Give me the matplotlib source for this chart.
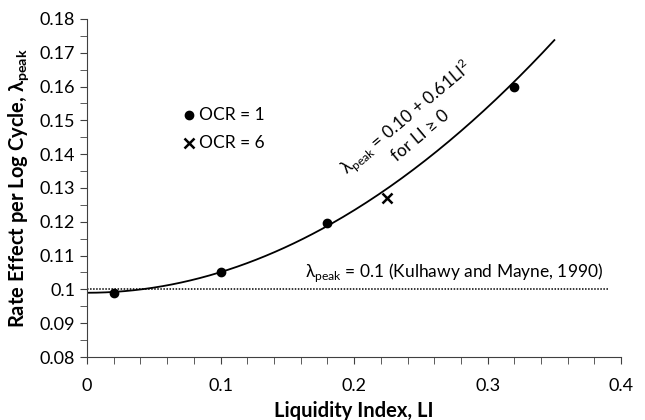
import numpy as np
import matplotlib.pyplot as plt
from matplotlib.ticker import MultipleLocator, FuncFormatter

plt.rcParams['font.family'] = ['Lato', 'DejaVu Sans']
plt.rcParams['mathtext.fontset'] = 'custom'
plt.rcParams['mathtext.rm'] = 'Lato'
plt.rcParams['mathtext.bf'] = 'Lato:bold'

# measured points
li_ocr1 = [0.02, 0.10, 0.18, 0.32]
lam_ocr1 = [0.099, 0.105, 0.1197, 0.160]
li_ocr6 = [0.225]
lam_ocr6 = [0.127]

# fitted trend line and reference value
fit_a, fit_b = 0.099, 0.61
fit_li_max = 0.35
ref_lambda = 0.1
ref_li_max = 0.39

fig, ax = plt.subplots(figsize=(6.45, 4.2), dpi=100)
fig.subplots_adjust(left=0.135, right=0.963, top=0.955, bottom=0.15)

x_fit = np.linspace(0, fit_li_max, 200)
ax.plot(x_fit, fit_a + fit_b * x_fit**2, color='black', lw=1.3)
ax.plot([0, ref_li_max], [ref_lambda, ref_lambda], color='black', lw=1.1, ls=(0, (1, 1)))

ax.plot(li_ocr1, lam_ocr1, 'o', color='black', ms=6)
ax.plot(li_ocr6, lam_ocr6, 'x', color='black', ms=7, mew=1.8)

# legend drawn as text
ax.plot([0.076], [0.1516], 'o', color='black', ms=6, clip_on=False)
ax.text(0.084, 0.1516, 'OCR = 1', fontsize=12.5, va='center')
ax.plot([0.076], [0.1433], 'x', color='black', ms=7, mew=1.8, clip_on=False)
ax.text(0.084, 0.1433, 'OCR = 6', fontsize=12.5, va='center')

ax.text(0.163, 0.1037, 'λ$_{\\mathrm{peak}}$ = 0.1 (Kulhawy and Mayne, 1990)',
        fontsize=12.5, va='baseline')
ax.text(0.243, 0.1487, 'λ$_{\\mathrm{peak}}$ = 0.10 + 0.61LI$^2$\nfor LI ≥ 0',
        fontsize=12.5, rotation=40, ha='center', va='center', multialignment='center',
        rotation_mode='anchor')

ax.set_xlim(0, 0.4)
ax.set_ylim(0.08, 0.18)
ax.xaxis.set_major_locator(MultipleLocator(0.1))
ax.xaxis.set_minor_locator(MultipleLocator(0.02))
ax.yaxis.set_major_locator(MultipleLocator(0.01))
ax.yaxis.set_minor_locator(MultipleLocator(0.005))

fmt = FuncFormatter(lambda v, p: ('%.2f' % v).rstrip('0').rstrip('.') if abs(v) > 1e-9 else '0')
ax.xaxis.set_major_formatter(fmt)
ax.yaxis.set_major_formatter(fmt)

for s in ['top', 'right']:
    ax.spines[s].set_visible(False)
for s in ['left', 'bottom']:
    ax.spines[s].set_color('#404040')
ax.tick_params(which='both', direction='out', length=5, color='#404040', labelsize=13)
ax.tick_params(axis='x', pad=10)

ax.set_xlabel('Liquidity Index, LI', fontsize=14.5, fontweight='bold', labelpad=5)
ax.set_ylabel('Rate Effect per Log Cycle, λ$_{\\mathbf{peak}}$', fontsize=14.5, fontweight='bold',
              labelpad=6)

fig.savefig('out.png', dpi=100)
